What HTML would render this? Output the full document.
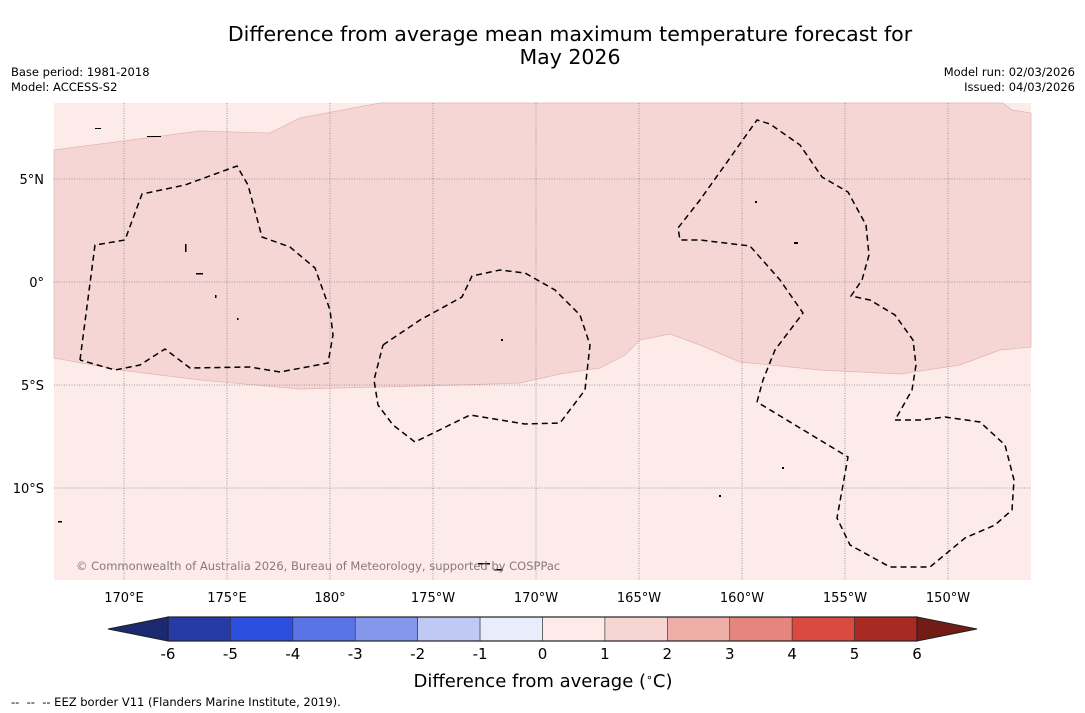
<!DOCTYPE html>
<html><head><meta charset="utf-8"><style>
body{margin:0;background:#fff;font-family:"Liberation Sans","DejaVu Sans",sans-serif}
svg{display:block}
</style></head><body>
<svg id="s" width="1085" height="713" viewBox="0 0 1085 713" font-family="DejaVu Sans, Liberation Sans, sans-serif">
<text x="570" y="41" text-anchor="middle" font-size="20.5" fill="#000">Difference from average mean maximum temperature forecast for</text>
<text x="570" y="64" text-anchor="middle" font-size="20.5" fill="#000">May 2026</text>
<text x="11" y="76" font-size="11.5">Base period: 1981-2018</text>
<text x="11" y="91" font-size="11.5">Model: ACCESS-S2</text>
<text x="1075" y="76" font-size="11.5" text-anchor="end">Model run: 02/03/2026</text>
<text x="1075" y="91" font-size="11.5" text-anchor="end">Issued: 04/03/2026</text>
<g>
<rect x="54" y="103" width="977" height="477" fill="#fcebe9"/>
<path fill="#f5d6d4" stroke="#e3b4b1" stroke-width="0.7" d="M54,150 L200,131 L270,133 L300,118 L380,103 L1003,103 L1012,110 L1031,113 L1031,347 L1000,350 L960,365 L900,374 L820,370 L740,362 L700,345 L670,334 L640,340 L625,355 L600,368 L560,374 L520,383 L460,385 L300,389 L200,380 L120,370 L54,358 Z"/>
<g id="grid" stroke="#888" stroke-width="0.8" stroke-dasharray="1,1.5"></g>
<g fill="none" stroke="#000" stroke-width="1.5" stroke-dasharray="6,4">
<path d="M80,360 L95,245 L125,240 L142,194 L185,185 L237,166 L248,185 L262,237 L290,247 L315,268 L330,310 L333,335 L328,363 L280,372 L250,367 L190,368 L165,349 L140,365 L115,370 L80,360"/>
<path d="M383,345 L420,320 L462,297 L472,276 L500,270 L525,273 L555,290 L580,315 L590,345 L585,390 L560,423 L525,424 L470,415 L415,442 L393,425 L378,405 L374,380 L383,345"/>
<path d="M757,402 L763,380 L775,350 L803,313 L780,280 L750,246 L700,240 L680,240 L678,228 L700,200 L757,120 L770,124 L800,145 L822,177 L848,192 L866,225 L869,255 L862,280 L851,296 L870,300 L895,315 L913,340 L916,365 L912,390 L895,420 L920,420 L945,417 L980,422 L1005,445 L1014,480 L1012,510 L995,525 L965,538 L930,567 L890,567 L850,545 L837,518 L848,457 L757,402"/>
</g>
<g fill="#000">
<rect x="147" y="136" width="14" height="1"/><rect x="95" y="128" width="6" height="1"/><rect x="185" y="244" width="1.5" height="8"/><rect x="196" y="273" width="7" height="1.5"/><rect x="215" y="295" width="1.5" height="3"/><rect x="237" y="318" width="1.5" height="2"/><rect x="755" y="201" width="2" height="2"/><rect x="794" y="242" width="4" height="2"/><rect x="782" y="467" width="2" height="2"/><rect x="478" y="563" width="12" height="1.5"/><rect x="494" y="569" width="9" height="1.5"/><rect x="58" y="521" width="4" height="1.5"/><rect x="501" y="339" width="2" height="2"/><rect x="719" y="495" width="2" height="2"/>
</g>
<text x="76" y="570" font-size="11.5" fill="#8a7878">© Commonwealth of Australia 2026, Bureau of Meteorology, supported by COSPPac</text>
</g>
<g id="axes" font-size="13" fill="#000"></g>
<g id="cbar"></g>
<text x="543" y="687" text-anchor="middle" font-size="18">Difference from average (<tspan font-size="11" dy="-6">∘</tspan><tspan dy="6">C)</tspan></text>
<text x="11" y="706" font-size="11.5">--&#160;&#160;--&#160;&#160;-- EEZ border V11 (Flanders Marine Institute, 2019).</text>
</svg>
<script>
const lonTicks=[170,175,180,185,190,195,200,205,210];
const lonLabels=["170°E","175°E","180°","175°W","170°W","165°W","160°W","155°W","150°W"];
const latTicks=[5,0,-5,-10];
const latLabels=["5°N","0°","5°S","10°S"];
const levels=[-6,-5,-4,-3,-2,-1,0,1,2,3,4,5,6];
const binColors=["#263ba6","#2d4fe0","#5a73e5","#8497ea","#c0c9f3","#e9ecfa","#fcebe9","#f6d5d3","#edaea8","#e6857d","#da4a3f","#a92a22"];
const underColor="#1b2a70";const overColor="#731c16";
const NS="http://www.w3.org/2000/svg";
const X=lon=>124+(lon-170)*20.6, Y=lat=>282-lat*20.6;
function mk(t,a,p){const e=document.createElementNS(NS,t);for(const k in a)e.setAttribute(k,a[k]);p.appendChild(e);return e;}
const g=document.getElementById('grid'),ax=document.getElementById('axes');
lonTicks.forEach((l,i)=>{const x=X(l);
const ln=mk('line',{x1:x,y1:103,x2:x,y2:580},g);

const t=mk('text',{x:x,y:602,'text-anchor':'middle'},ax);t.textContent=lonLabels[i];
});
latTicks.forEach((l,i)=>{const y=Y(l);
const ln=mk('line',{x1:54,y1:y,x2:1031,y2:y},g);

const t=mk('text',{x:44,y:y+5,'text-anchor':'end'},ax);t.textContent=latLabels[i];
});
const cb=document.getElementById('cbar');
const C=v=>168+(v-levels[0])*(917-168)/(levels[levels.length-1]-levels[0]);
const y0=617,y1=641;
const tl=mk('polygon',{points:`${C(levels[0])},${y0} ${C(levels[0])-60},${(y0+y1)/2} ${C(levels[0])},${y1}`,fill:underColor,stroke:'#222','stroke-width':1},cb);

const last=levels[levels.length-1];
const tr=mk('polygon',{points:`${C(last)},${y0} ${C(last)+60},${(y0+y1)/2} ${C(last)},${y1}`,fill:overColor,stroke:'#222','stroke-width':1},cb);

binColors.forEach((c,i)=>{const r=mk('rect',{x:C(levels[i]),y:y0,width:C(levels[i+1])-C(levels[i]),height:y1-y0,fill:c,stroke:'#333','stroke-width':0.6},cb);
});
const fr=mk('rect',{x:C(levels[0]),y:y0,width:C(last)-C(levels[0]),height:y1-y0,fill:'none',stroke:'#222','stroke-width':1.2},cb);

levels.forEach(v=>{const t=mk('text',{x:C(v),y:659,'text-anchor':'middle','font-size':15},cb);t.textContent=String(v);
});
</script>
</body></html>
